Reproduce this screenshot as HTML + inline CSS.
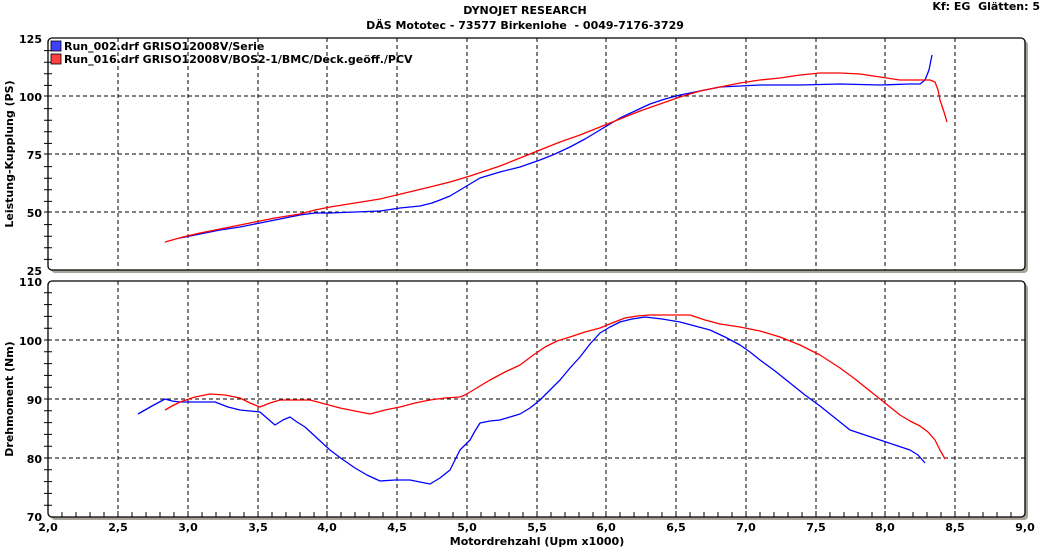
<!DOCTYPE html>
<html><head><meta charset="utf-8"><style>
html,body{margin:0;padding:0;background:#fff;}
svg{display:block;font-family:"DejaVu Sans","Liberation Sans",sans-serif;font-weight:bold;}
</style></head><body>
<svg width="1050" height="549" viewBox="0 0 1050 549" xmlns="http://www.w3.org/2000/svg">
<text x="525" y="14" font-size="11" text-anchor="middle">DYNOJET RESEARCH</text>
<text x="525" y="29" font-size="11" text-anchor="middle" xml:space="preserve">DÄS Mototec - 73577 Birkenlohe  - 0049-7176-3729</text>
<text x="1040" y="10" font-size="11" text-anchor="end" xml:space="preserve">Kf: EG  Glätten: 5</text>

<rect x="51" y="41" width="977" height="232" rx="4" fill="#aaa59a"/>
<rect x="48" y="38" width="977" height="232" rx="4" fill="#fff" stroke="#000" stroke-width="1.3"/>
<rect x="51" y="284" width="977" height="236" rx="4" fill="#aaa59a"/>
<rect x="48" y="281" width="977" height="236" rx="4" fill="#fff" stroke="#000" stroke-width="1.3"/>

<g stroke="#000" stroke-width="1" stroke-dasharray="4,3">
<path d="M118 38V270M188 38V270M258 38V270M327 38V270M397 38V270M467 38V270M537 38V270M606 38V270M676 38V270M746 38V270M816 38V270M885 38V270M955 38V270"/>
<path d="M118 281V517M188 281V517M258 281V517M327 281V517M397 281V517M467 281V517M537 281V517M606 281V517M676 281V517M746 281V517M816 281V517M885 281V517M955 281V517"/>
<path d="M48 96H1025M48 154H1025M48 212H1025"/>
<path d="M48 340H1025M48 399H1025M48 458H1025"/>
</g>
<g stroke="#000" stroke-width="1">
<path d="M44 50.6H52M44 62.2H52M44 73.8H52M44 85.4H52M44 96H52M44 108.6H52M44 120.2H52M44 131.8H52M44 143.4H52M44 154H52M44 166.6H52M44 178.2H52M44 189.8H52M44 201.4H52M44 212H52M44 224.6H52M44 236.2H52M44 247.8H52M44 259.4H52"/>
<path d="M44 292.8H52M44 304.6H52M44 316.4H52M44 328.2H52M44 340H52M44 351.8H52M44 363.6H52M44 375.4H52M44 387.2H52M44 399H52M44 410.8H52M44 422.6H52M44 434.4H52M44 446.2H52M44 458H52M44 469.8H52M44 481.6H52M44 493.4H52M44 505.2H52"/>
<path d="M62 517V512M76 517V512M90 517V512M104 517V512M118 517V511M132 517V512M146 517V512M160 517V512M174 517V512M188 517V511M202 517V512M216 517V512M230 517V512M244 517V512M258 517V511M272 517V512M286 517V512M300 517V512M314 517V512M327 517V511M341 517V512M355 517V512M369 517V512M383 517V512M397 517V511M411 517V512M425 517V512M439 517V512M453 517V512M467 517V511M481 517V512M495 517V512M509 517V512M523 517V512M537 517V511M551 517V512M565 517V512M579 517V512M593 517V512M606 517V511M620 517V512M634 517V512M648 517V512M662 517V512M676 517V511M690 517V512M704 517V512M718 517V512M732 517V512M746 517V511M760 517V512M774 517V512M788 517V512M802 517V512M816 517V511M830 517V512M844 517V512M858 517V512M872 517V512M885 517V511M899 517V512M913 517V512M927 517V512M941 517V512M955 517V511M969 517V512M983 517V512M997 517V512M1011 517V512"/>
</g>

<g font-size="11" text-anchor="end">
<text x="42" y="43">125</text><text x="42" y="101">100</text><text x="42" y="159">75</text><text x="42" y="217">50</text><text x="42" y="275">25</text>
<text x="42" y="286">110</text><text x="42" y="345">100</text><text x="42" y="404">90</text><text x="42" y="463">80</text><text x="42" y="521">70</text>
</g>
<g font-size="11" text-anchor="middle">
<text x="48" y="531">2,0</text><text x="118" y="531">2,5</text><text x="188" y="531">3,0</text><text x="258" y="531">3,5</text><text x="327" y="531">4,0</text><text x="397" y="531">4,5</text><text x="467" y="531">5,0</text><text x="537" y="531">5,5</text><text x="606" y="531">6,0</text><text x="676" y="531">6,5</text><text x="746" y="531">7,0</text><text x="816" y="531">7,5</text><text x="885" y="531">8,0</text><text x="955" y="531">8,5</text><text x="1025" y="531">9,0</text>
<text x="537" y="545">Motordrehzahl (Upm x1000)</text>
<text transform="translate(13,154) rotate(-90)">Leistung-Kupplung (PS)</text>
<text transform="translate(13,399) rotate(-90)">Drehmoment (Nm)</text>
</g>

<rect x="51" y="41" width="10" height="10" fill="#4040ff" stroke="#000" stroke-width="0.8"/>
<rect x="51" y="54" width="10" height="10" fill="#ff4040" stroke="#000" stroke-width="0.8"/>
<g font-size="11"><text x="64" y="50">Run_002.drf GRISO12008V/Serie</text><text x="64" y="63">Run_016.drf GRISO12008V/BOS2-1/BMC/Deck.geöff./PCV</text></g>

<g fill="none" stroke-width="1.3" stroke-linejoin="round">
<polyline stroke="#0000ff" points="180,238 200,234 220,230 240,227 260,223 280,219 300,215 315,213 330,213 355,212 380,211 400,208 420,206 432,203 440,200 450,196 460,190 470,184 480,178 490,175 500,172 520,167 540,160 555,154 570,147 585,139 600,130 610,124 620,118 635,111 650,104 665,99 680,95 700,91 720,87 740,86 760,85 800,85 840,84 880,85 910,84 920,84 925,80 929,70 932,55"/>
<polyline stroke="#ff0000" points="165,242 183,237 200,233 225,228 250,223 275,218 300,214 315,210 330,207 355,203 380,199 405,193 430,187 450,182 470,176 485,171 500,166 520,158 540,150 560,142 580,135 600,127 620,119 640,111 660,104 680,97 700,91 720,87 740,83 760,80 780,78 800,75 820,73 840,73 860,74 880,77 900,80 915,80 930,80 935,82 938,90 940,100 944,112 947,122"/>
<polyline stroke="#0000ff" points="138,414 152,406 165,399 172,401 180,402 198,402 215,402 228,407 240,410 250,411 260,412 268,419 275,425 283,420 290,417 297,422 305,427 318,439 330,450 342,459 355,468 367,475 380,481 395,480 410,480 420,482 430,484 440,478 450,470 455,460 460,450 465,445 470,440 475,431 480,423 490,421 500,420 510,417 520,414 530,408 540,400 550,390 560,380 570,368 580,357 590,344 600,333 610,327 620,322 632,319 645,317 662,319 680,322 695,326 710,330 725,337 740,345 750,352 760,360 775,371 790,383 805,395 820,406 835,418 850,430 865,435 880,440 895,445 910,450 918,455 925,463"/>
<polyline stroke="#ff0000" points="165,410 172,406 180,402 195,397 210,394 225,395 240,398 250,403 260,407 270,403 280,400 295,400 310,400 325,404 340,408 355,411 370,414 385,410 400,407 415,403 430,400 445,398 460,397 465,395 470,392 480,386 490,380 505,372 520,365 532,356 545,347 557,341 570,337 585,332 600,328 612,323 625,318 637,316 650,315 670,315 690,315 705,320 720,324 740,327 760,331 780,337 800,345 820,355 840,368 855,379 870,391 885,403 900,415 910,421 920,426 928,432 935,440 940,450 945,459"/>
</g>
</svg>
</body></html>
